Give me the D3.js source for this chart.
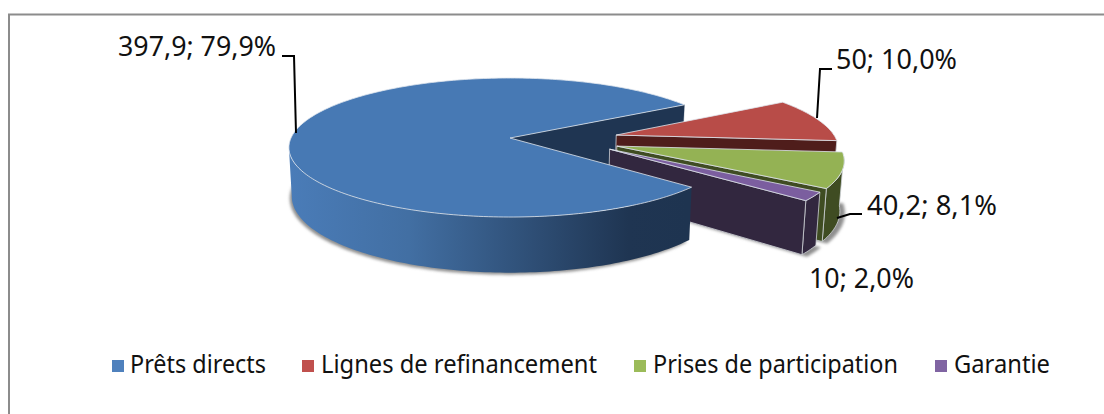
<!DOCTYPE html>
<html><head><meta charset="utf-8">
<script src="https://cdn.jsdelivr.net/npm/d3@7"></script>
<style>html,body{margin:0;padding:0;background:#fff;overflow:hidden}text{font-family:"Noto Sans",sans-serif;fill:#111}</style>
</head><body><svg id="c" width="1104" height="414"></svg>
<script>
const categories = ["Prêts directs","Lignes de refinancement","Prises de participation","Garantie"];
const values = [397.9, 50, 40.2, 10];
const topColors = ["#4779b4","#b84c48","#94b254","#7b5e9f"];
const sideColors = ["#1f3552","#4f1d1b","#3f4c22","#32273f"];
const legendColors = ["#4f81bd","#c0504d","#9bbb59","#8064a2"];
const explode = [[0,0],[0.488,-0.044],[0.48,0.117],[0.445,0.16]];
const labelPos = [[118,56,158],[836,69,121],[867,215,130],[809,288,105]];
const leaders = [[[296,133],[294,56],[282,56]],[[817,118],[820,69],[832,69]],[[837,218],[850,214],[862,214]],null];
const legendX = [112,302,634,935];
const legendTextX = [130,321,653,954];
const legendTextW = [136,276,245,96];

const svg = d3.select("#c");
const defs = svg.append("defs");
const cx=510, cy=138, R=219, H=68.2, K=0.137, D=48, BX=0.987;
const rad=Math.PI/180;
const s=v=>1/(1-K*v);
const pT=(u,v)=>[cx+R*u*s(v), cy+H*v*s(v)];
const pB=(u,v)=>[cx+R*u*s(v)*BX, cy+(H*v+D)*s(v)];
const startDeg=41;
const pie=d3.pie().sort(null).value(d=>d).startAngle(startDeg*rad).endAngle((startDeg+360)*rad)(values);
const line=d3.line();
const total=d3.sum(values);
const fmt=v=>String(v).replace(".",",");
const pct=v=>(v/total*100).toFixed(1).replace(".",",")+"%";

const g1=defs.append("linearGradient").attr("id","blueSide").attr("gradientUnits","userSpaceOnUse").attr("x1",289).attr("x2",688).attr("y1",0).attr("y2",0);
g1.append("stop").attr("offset","0").attr("stop-color","#4a7cb8");
g1.append("stop").attr("offset","0.3").attr("stop-color","#426fa3");
g1.append("stop").attr("offset","0.85").attr("stop-color","#1f3552");
g1.append("stop").attr("offset","1").attr("stop-color","#1e3450");
defs.append("filter").attr("id","blur").attr("x","-10%").attr("y","-10%").attr("width","120%").attr("height","120%").append("feGaussianBlur").attr("stdDeviation",1.4);

// frame: runs off the right and bottom of the picture
svg.append("rect").attr("x",9).attr("y",14.5).attr("width",1120).attr("height",420).attr("fill","#fff").attr("stroke","#8c8c8c").attr("stroke-width",2);

function arcPts(a0,a1,ex,proj){
  const n=Math.max(2,Math.ceil((a1-a0)/0.02)),pts=[];
  for(let i=0;i<=n;i++){const a=a0+(a1-a0)*i/n;pts.push(proj(ex[0]+Math.cos(a),ex[1]+Math.sin(a)));}
  return pts;
}
const layer=svg.append("g");
function poly(pts,fill,stroke){
  return layer.append("path").attr("d",line(pts)+"Z").attr("fill",fill).attr("stroke",stroke||fill).attr("stroke-width",stroke?0.8:0.3).attr("stroke-linejoin","round");
}
// the part of a wedge's rim that faces the viewer
function rimRange(a0,a1){
  const lo=8*rad, hi=172*rad;
  for(const k of [0,1]){
    const b0=Math.max(a0,lo+k*2*Math.PI), b1=Math.min(a1,hi+k*2*Math.PI);
    if(b1>b0) return [b0,b1];
  }
  return null;
}
const shadow=svg.insert("g",()=>layer.node()).attr("filter","url(#blur)").attr("fill","#8f8f8f");
pie.forEach((d,i)=>{
  const ex=explode[i];
  const off=i===0?[-2,2]:[5,2];
  const pts=[pB(ex[0],ex[1]),...arcPts(d.startAngle,d.endAngle,ex,pB)].map(p=>[p[0]+off[0],p[1]+off[1]]);
  shadow.append("path").attr("d",line(pts)+"Z");
});
function rim(i,fill,stroke){
  const d=pie[i],ex=explode[i],r=rimRange(d.startAngle,d.endAngle);
  if(!r) return;
  const t=arcPts(r[0],r[1],ex,pT),b=arcPts(r[0],r[1],ex,pB);
  layer.append("path").attr("d",line([...t,...b.reverse()])+"Z").attr("fill",fill).attr("stroke",stroke||"none").attr("stroke-width",0.8);
}
function radial(i,angle,stroke){
  const ex=explode[i];
  const c=[ex[0]+Math.cos(angle),ex[1]+Math.sin(angle)];
  poly([pT(ex[0],ex[1]),pT(c[0],c[1]),pB(c[0],c[1]),pB(ex[0],ex[1])],sideColors[i],stroke);
}
function topFace(i){
  const d=pie[i],ex=explode[i];
  poly([pT(ex[0],ex[1]),...arcPts(d.startAngle,d.endAngle,ex,pT)],topColors[i],"#dfe6ee");
}
radial(0,pie[0].endAngle);
[1,2,3].forEach(i=>{
  rim(i,sideColors[i],"#cfd3d8");
  radial(i,pie[i].endAngle,"#cfd3d8");
  topFace(i);
});
rim(0,"url(#blueSide)");
topFace(0);

leaders.forEach(l=>{ if(l) svg.append("path").attr("d",line(l)).attr("fill","none").attr("stroke","#000").attr("stroke-width",2); });
values.forEach((v,i)=>{
  svg.append("text").attr("x",labelPos[i][0]).attr("y",labelPos[i][1]).attr("font-size",26.5)
    .attr("textLength",labelPos[i][2]).attr("lengthAdjust","spacingAndGlyphs").text(fmt(v)+"; "+pct(v));
});
categories.forEach((c,i)=>{
  svg.append("rect").attr("x",legendX[i]).attr("y",360).attr("width",12).attr("height",12).attr("fill",legendColors[i]);
  svg.append("text").attr("x",legendTextX[i]).attr("y",373).attr("font-size",25)
    .attr("textLength",legendTextW[i]).attr("lengthAdjust","spacingAndGlyphs").text(c);
});
</script></body></html>
